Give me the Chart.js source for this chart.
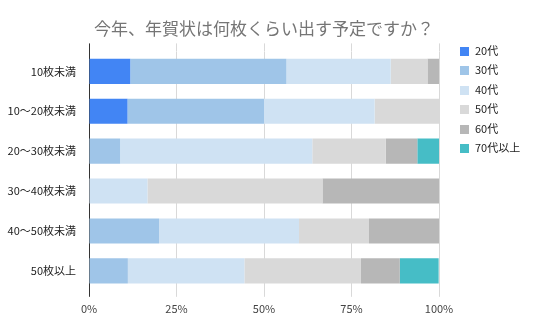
<!DOCTYPE html>
<html>
<head>
<meta charset="utf-8">
<script src="https://cdn.jsdelivr.net/npm/chart.js@4"></script>
<style>
	body { margin: 0; background: #fff; }
	#wrap { position: relative; width: 536px; height: 331px; }
	#legend { position: absolute; left: 460px; top: 41px; margin: 0; padding: 0; list-style: none;
		font: 11px "Noto Sans CJK JP", "Noto Sans", sans-serif; color: #222; }
	#legend li { height: 19.4px; line-height: 19.4px; white-space: nowrap; }
	#legend span { display: inline-block; width: 9px; height: 9px; margin-right: 6px; vertical-align: -1px; }
</style>
</head>
<body>
<div id="wrap">
	<canvas id="chart" width="536" height="331"></canvas>
	<ul id="legend"></ul>
</div>
<script>
	// :: data
	var categories = ['10枚未満', '10〜20枚未満', '20〜30枚未満', '30〜40枚未満', '40〜50枚未満', '50枚以上'];
	var seriesNames = ['20代', '30代', '40代', '50代', '60代', '70代以上'];
	var age20 = [11.8, 11.0, 0, 0, 0, 0];
	var age30 = [44.6, 39.0, 8.9, 0, 20.0, 11.1];
	var age40 = [29.8, 31.6, 54.9, 16.7, 40.0, 33.3];
	var age50 = [10.5, 18.4, 21.0, 50.0, 20.0, 33.3];
	var age60 = [3.3, 0, 9.0, 33.3, 20.0, 11.1];
	var age70 = [0, 0, 6.2, 0, 0, 11.1];
	var xTicks = [0, 25, 50, 75, 100];

	var colors = ['#4285f4', '#9fc5e8', '#cfe2f3', '#d9d9d9', '#b7b7b7', '#46bdc6'];
	var values = [age20, age30, age40, age50, age60, age70];
	var font = '"Noto Sans CJK JP", "Noto Sans", sans-serif';

	var datasets = seriesNames.map(function (name, i) {
		return {
			label: name,
			data: values[i],
			backgroundColor: colors[i],
			borderWidth: 0,
			barPercentage: 0.63,
			categoryPercentage: 1
		};
	});

	function fixedTicks(scale) {
		scale.ticks = xTicks.map(function (v) { return { value: v }; });
	}

	// axis line at 0% is dark, the rest light grey
	function tickCol(ctx) {
		return ctx.tick && ctx.tick.value === 0 ? '#333' : '#d9d9d9';
	}

	// :: legend (html, right side)
	var legendEl = document.getElementById('legend');
	seriesNames.forEach(function (name, i) {
		var li = document.createElement('li');
		var sw = document.createElement('span');
		sw.style.background = colors[i];
		li.appendChild(sw);
		li.appendChild(document.createTextNode(name));
		legendEl.appendChild(li);
	});

	new Chart(document.getElementById('chart').getContext('2d'), {
		type: 'bar',
		data: { labels: categories, datasets: datasets },
		options: {
			indexAxis: 'y',
			responsive: false,
			animation: false,
			layout: { padding: { left: 0, right: 97, top: 0, bottom: 11 } },
			scales: {
				x: {
					stacked: true,
					min: 0,
					max: 100,
					afterBuildTicks: fixedTicks,
					grid: { color: '#d9d9d9', tickColor: tickCol, tickLength: 6 },
					border: { display: false },
					ticks: {
						padding: 5,
						color: '#444',
						font: { family: font, size: 11 },
						callback: function (v) { return v + '%'; }
					}
				},
				x2: {
					position: 'top',
					min: 0,
					max: 100,
					afterBuildTicks: fixedTicks,
					grid: { drawOnChartArea: false, color: '#d9d9d9', tickColor: tickCol, tickLength: 8 },
					border: { display: false },
					ticks: { display: false }
				},
				y: {
					stacked: true,
					afterFit: function (scale) { scale.width = 89; },
					grid: { display: false },
					border: { display: true, color: '#333', width: 1 },
					ticks: {
						padding: 5,
						color: '#222',
						font: { family: font, size: 11 }
					}
				}
			},
			plugins: {
				title: {
					display: true,
					fullSize: false,
					text: '今年、年賀状は何枚くらい出す予定ですか？',
					color: '#757575',
					font: { family: font, size: 17, weight: 'normal' },
					padding: { top: 18, bottom: 5 }
				},
				legend: { display: false },
				tooltip: { enabled: false }
			}
		}
	});
</script>
</body>
</html>
